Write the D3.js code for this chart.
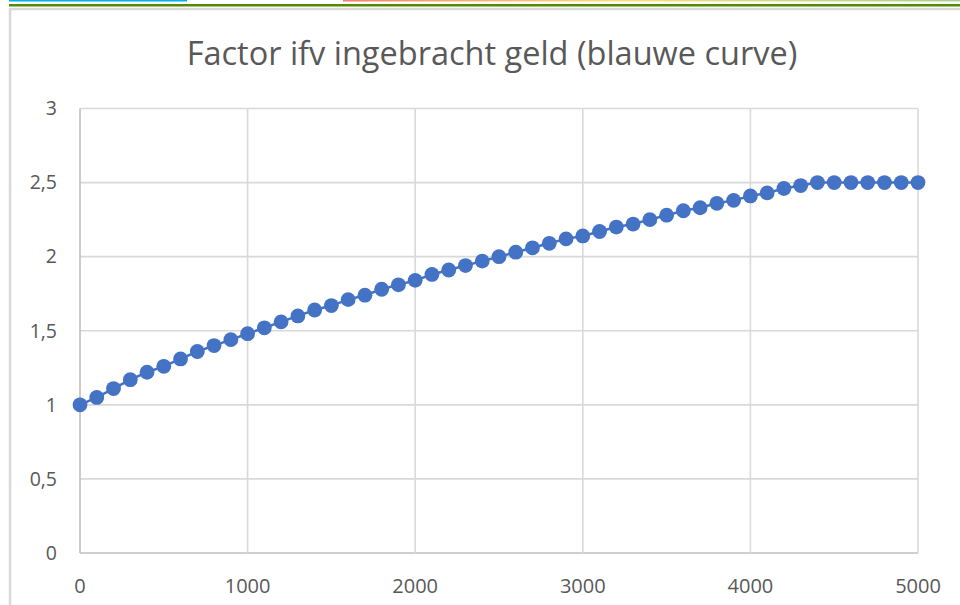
<!DOCTYPE html>
<html>
<head>
<meta charset="utf-8">
<script src="https://cdn.jsdelivr.net/npm/d3@7"></script>
<style>
  body { margin: 0; background: #fff; }
  svg { display: block; }
</style>
</head>
<body>
<div id="chart"></div>
<script>
// ingebracht geld (x) en factor (y)
var amounts = [0, 100, 200, 300, 400, 500, 600, 700, 800, 900,
  1000, 1100, 1200, 1300, 1400, 1500, 1600, 1700, 1800, 1900,
  2000, 2100, 2200, 2300, 2400, 2500, 2600, 2700, 2800, 2900,
  3000, 3100, 3200, 3300, 3400, 3500, 3600, 3700, 3800, 3900,
  4000, 4100, 4200, 4300, 4400, 4500, 4600, 4700, 4800, 4900, 5000];
var factors = [1.00, 1.05, 1.11, 1.17, 1.22, 1.26, 1.31, 1.36, 1.40, 1.44,
  1.48, 1.52, 1.56, 1.60, 1.64, 1.67, 1.71, 1.74, 1.78, 1.81,
  1.84, 1.88, 1.91, 1.94, 1.97, 2.00, 2.03, 2.06, 2.09, 2.12,
  2.14, 2.17, 2.20, 2.22, 2.25, 2.28, 2.31, 2.33, 2.36, 2.38,
  2.41, 2.43, 2.46, 2.48, 2.50, 2.50, 2.50, 2.50, 2.50, 2.50, 2.50];
var xTicks = [0, 1000, 2000, 3000, 4000, 5000];
var yTicks = [0, 0.5, 1, 1.5, 2, 2.5, 3];
var title = "Factor ifv ingebracht geld (blauwe curve)";

var width = 960;
var height = 605;
var margin = {top: 108.5, right: 42, bottom: 52, left: 80};

var svg = d3.select("#chart").append("svg")
  .attr("width", width)
  .attr("height", height);

// decoratieve lijnen bovenaan (stuk van de pagina erboven)
var grad = svg.append("defs").append("linearGradient")
  .attr("id", "rainbow")
  .attr("x1", "0%").attr("x2", "100%");
grad.append("stop").attr("offset", "0%").attr("stop-color", "#f47c6c");
grad.append("stop").attr("offset", "14%").attr("stop-color", "#f6a36f");
grad.append("stop").attr("offset", "45%").attr("stop-color", "#fbe07f");
grad.append("stop").attr("offset", "100%").attr("stop-color", "#a9d18e");

svg.append("rect").attr("x", 9).attr("y", 0).attr("width", 178).attr("height", 1.5)
  .attr("fill", "#00b0f0");
svg.append("rect").attr("x", 343).attr("y", 0).attr("width", 617).attr("height", 1.5)
  .attr("fill", "url(#rainbow)");
svg.append("rect").attr("x", 9).attr("y", 4).attr("width", 951).attr("height", 2.5)
  .attr("fill", "#548a00");

// kader van de grafiek
svg.append("path")
  .attr("d", "M10,605 V9 H960")
  .attr("fill", "none")
  .attr("stroke", "#d9d9d9")
  .attr("stroke-width", 2.5);

var x = d3.scaleLinear()
  .domain([0, 5000])
  .range([margin.left, width - margin.right]);

var y = d3.scaleLinear()
  .domain([0, 3])
  .range([height - margin.bottom, margin.top]);

// rasterlijnen
svg.append("g").selectAll("line.h")
  .data(yTicks)
  .enter()
  .append("line")
  .attr("x1", x(0)).attr("x2", x(5000))
  .attr("y1", function(d){return y(d);})
  .attr("y2", function(d){return y(d);})
  .attr("stroke", function(d){return d === 0 ? "#bfbfbf" : "#d9d9d9";})
  .attr("stroke-width", 1.6);

svg.append("g").selectAll("line.v")
  .data(xTicks)
  .enter()
  .append("line")
  .attr("y1", y(0)).attr("y2", y(3))
  .attr("x1", function(d){return x(d);})
  .attr("x2", function(d){return x(d);})
  .attr("stroke", function(d){return d === 0 ? "#bfbfbf" : "#d9d9d9";})
  .attr("stroke-width", 1.6);

// as-labels
var fmt = function(d){ return String(d).replace(".", ","); };

svg.append("g").selectAll("text")
  .data(yTicks)
  .enter()
  .append("text")
  .attr("x", 57)
  .attr("y", function(d){return y(d);})
  .attr("dy", "0.35em")
  .attr("text-anchor", "end")
  .attr("font-family", "Open Sans, sans-serif")
  .attr("font-size", "19.5px")
  .attr("fill", "#595959")
  .text(fmt);

svg.append("g").selectAll("text")
  .data(xTicks)
  .enter()
  .append("text")
  .attr("x", function(d){return x(d);})
  .attr("y", 593)
  .attr("text-anchor", "middle")
  .attr("font-family", "Open Sans, sans-serif")
  .attr("font-size", "20px")
  .attr("fill", "#595959")
  .text(fmt);

// titel
svg.append("text")
  .attr("x", 492)
  .attr("y", 65)
  .attr("text-anchor", "middle")
  .attr("font-family", "Open Sans, sans-serif")
  .attr("font-size", "32.5px")
  .attr("fill", "#595959")
  .text(title);

// reeks
var points = amounts.map(function(a, i){ return {x: a, y: factors[i]}; });

svg.append("path")
  .datum(points)
  .attr("fill", "none")
  .attr("stroke", "#4472c4")
  .attr("stroke-width", 2.5)
  .attr("d", d3.line()
    .x(function(d){return x(d.x);})
    .y(function(d){return y(d.y);}));

svg.append("g").selectAll("circle")
  .data(points)
  .enter()
  .append("circle")
  .attr("cx", function(d){return x(d.x);})
  .attr("cy", function(d){return y(d.y);})
  .attr("r", 7.4)
  .attr("fill", "#4472c4");
</script>
</body>
</html>
